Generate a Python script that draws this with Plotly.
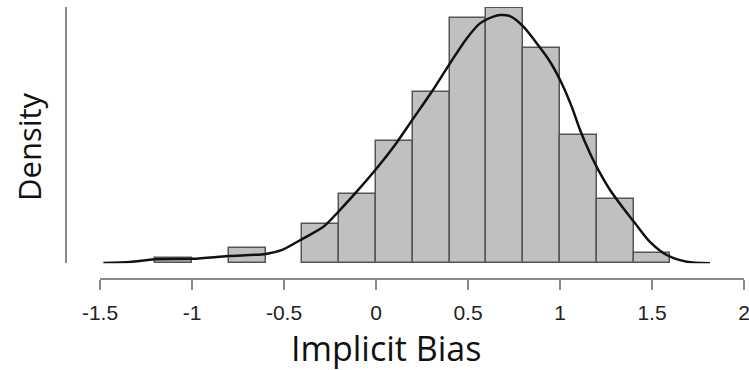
import plotly.graph_objects as go

# Histogram bins (left edges, width 0.2) and density values
bin_left = [-1.2, -0.8, -0.4, -0.2, 0.0, 0.2, 0.4, 0.6, 0.8, 1.0, 1.2, 1.4]
bin_density = [0.019, 0.056, 0.147, 0.259, 0.457, 0.639, 0.913, 0.950, 0.803, 0.477, 0.238, 0.037]
bin_width = 0.2

# Kernel density curve
kde_x = [-1.482, -1.337, -1.201, -0.996, -0.803, -0.599, -0.510, -0.395, -0.286, -0.205,
         -0.105, 0.004, 0.103, 0.203, 0.303, 0.402, 0.493, 0.565, 0.638, 0.674, 0.728,
         0.801, 0.873, 0.946, 1.009, 1.064, 1.109, 1.163, 1.208, 1.272, 1.344, 1.408,
         1.489, 1.580, 1.689, 1.815]
kde_y = [0.001, 0.005, 0.015, 0.017, 0.027, 0.035, 0.050, 0.093, 0.136, 0.192,
         0.267, 0.354, 0.441, 0.540, 0.639, 0.745, 0.838, 0.894, 0.919, 0.925, 0.921,
         0.882, 0.820, 0.751, 0.671, 0.583, 0.497, 0.410, 0.348, 0.273, 0.205, 0.149,
         0.080, 0.031, 0.006, 0.000]

tick_vals = [-1.5, -1, -0.5, 0, 0.5, 1, 1.5, 2]
tick_text = ["-1.5", "-1", "-0.5", "0", "0.5", "1", "1.5", "2"]

x_title = "Implicit Bias"
y_title = "Density"

W, H = 749, 370

fig = go.Figure()
fig.add_trace(go.Bar(
    x=[b + bin_width / 2 for b in bin_left],
    y=bin_density,
    width=[bin_width] * len(bin_left),
    marker=dict(color="#c0c0c0", line=dict(color="#555555", width=1.5)),
    showlegend=False,
    hoverinfo="skip",
))
fig.add_trace(go.Scatter(
    x=kde_x, y=kde_y, mode="lines",
    line=dict(color="#111111", width=2.5, shape="spline", smoothing=0.8),
    showlegend=False,
    hoverinfo="skip",
))

fig.update_layout(
    width=W, height=H,
    margin=dict(l=0, r=0, t=0, b=0, pad=0, autoexpand=False),
    paper_bgcolor="white",
    plot_bgcolor="white",
    bargap=0,
    showlegend=False,
    xaxis=dict(
        domain=[100 / W, 744 / W],
        range=[-1.5, 2],
        anchor="free",
        position=(H - 279.3) / H,
        automargin=False,
        showline=True, linecolor="#8a8a8a", linewidth=1.5,
        ticks="outside", ticklen=10, tickwidth=1.5, tickcolor="#8a8a8a",
        tickvals=tick_vals, ticktext=tick_text,
        ticklabelstandoff=5,
        ticklabeloverflow="allow",
        tickfont=dict(family="Liberation Sans, Arial, sans-serif", size=21, color="#222222"),
        showgrid=False, zeroline=False,
    ),
    yaxis=dict(
        domain=[(H - 263.3) / H, (H - 7.0) / H],
        range=[0, 0.955],
        anchor="free",
        position=66 / W,
        automargin=False,
        showline=True, linecolor="#8a8a8a", linewidth=1.5,
        ticks="", showticklabels=False,
        showgrid=False, zeroline=False,
    ),
    annotations=[
        dict(text=x_title, xref="paper", yref="paper",
             x=386 / W, y=(H - 348) / H, xanchor="center", yanchor="middle",
             showarrow=False, borderpad=0,
             font=dict(family="Open Sans, sans-serif", size=34, color="#111111")),
        dict(text=y_title, xref="paper", yref="paper",
             x=29 / W, y=(H - 147) / H, xanchor="center", yanchor="middle",
             textangle=-90, showarrow=False,
             font=dict(family="Open Sans, sans-serif", size=31, color="#111111")),
    ],
)

fig.write_html("out.html")
